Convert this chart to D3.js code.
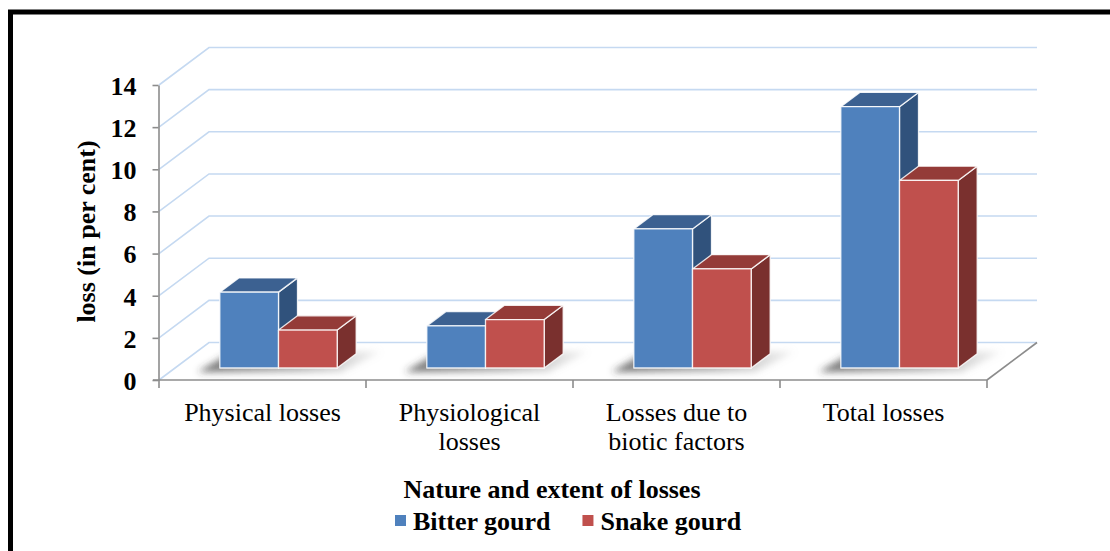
<!DOCTYPE html>
<html>
<head>
<meta charset="utf-8">
<script src="https://cdn.jsdelivr.net/npm/d3@7"></script>
<style>
    body { margin: 0; background: #fff; }
    svg { display: block; }
    text { font-family: 'Liberation Serif', 'Times New Roman', serif; fill: #000; }
</style>
</head>
<body>
<div id="vis"></div>
<script>
const CATEGORIES = ['Physical losses', 'Physiological losses', 'Losses due to biotic factors', 'Total losses']
const CATEGORY_LINES = [
    ['Physical losses'],
    ['Physiological', 'losses'],
    ['Losses due to', 'biotic factors'],
    ['Total losses']
]
const SERIES = ['Bitter gourd', 'Snake gourd']
const BITTER_GOURD = [3.6, 2.0, 6.6, 12.4]
const SNAKE_GOURD = [1.8, 2.3, 4.7, 8.9]
const Y_TICKS = [0, 2, 4, 6, 8, 10, 12, 14]

const COLORS = {
    'Bitter gourd': {front: '#4f81bd', top: '#3c6191', side: '#30527c'},
    'Snake gourd': {front: '#c0504d', top: '#943b38', side: '#7a302e'}
}

const W = 1110, H = 551
// oblique depth of the floor
const DEPTH = {dx: 50, dy: -37.5}
const BAR_D0 = 0.32, BAR_D1 = 0.70

let svg = d3.select('#vis')
    .append('svg')
    .attr('width', W)
    .attr('height', H)

let defs = svg.append('defs')
defs.append('filter')
    .attr('id', 'shadow-blur')
    .attr('x', '-30%').attr('y', '-80%')
    .attr('width', '160%').attr('height', '260%')
    .append('feGaussianBlur')
    .attr('stdDeviation', 3.5)

let grad = defs.append('linearGradient')
    .attr('id', 'shadow-grad')
    .attr('x1', '0%').attr('x2', '100%')
    .attr('y1', '0%').attr('y2', '0%')
grad.append('stop').attr('offset', '0%').attr('stop-color', '#333').attr('stop-opacity', 0.7)
grad.append('stop').attr('offset', '55%').attr('stop-color', '#666').attr('stop-opacity', 0.5)
grad.append('stop').attr('offset', '100%').attr('stop-color', '#aaa').attr('stop-opacity', 0.2)

// frame
svg.append('path')
    .attr('d', `M10.5 ${H + 5} V12 H${W + 5}`)
    .attr('fill', 'none')
    .attr('stroke', '#000')
    .attr('stroke-width', 5)

let x = d3.scaleBand()
    .domain(CATEGORIES)
    .range([159, 987])
    .padding(0)

let y = d3.scaleLinear()
    .domain([0, 14])
    .range([380, 85])

let clusterW = x.bandwidth() * 0.567
let clusterPad = (x.bandwidth() - clusterW) / 2
let xs = d3.scaleBand()
    .domain(SERIES)
    .range([0, clusterW])

function pt(px, v, d) {
    return [px + d * DEPTH.dx, y(v) + d * DEPTH.dy]
}

// back wall gridlines + floor
let xLeft = x.range()[0], xRight = x.range()[1]
svg.append('g')
    .selectAll('path')
    .data(Y_TICKS)
    .enter().append('path')
    .attr('d', v => d3.line()([pt(xLeft, v, 0), pt(xLeft, v, 1), pt(xRight, v, 1)]))
    .attr('fill', 'none')
    .attr('stroke', '#c5d9f1')
    .attr('stroke-width', 1.6)

svg.append('path')
    .attr('d', d3.line()([pt(xRight, 0, 0), pt(xRight, 0, 1)]))
    .attr('stroke', '#8c8c8c')
    .attr('stroke-width', 1.6)

// bar data
let bars = []
CATEGORIES.forEach((c, i) => {
    bars.push({cat: c, series: 'Bitter gourd', value: BITTER_GOURD[i]})
    bars.push({cat: c, series: 'Snake gourd', value: SNAKE_GOURD[i]})
})

// floor shadows
svg.append('g')
    .selectAll('polygon')
    .data(CATEGORIES)
    .enter().append('polygon')
    .attr('points', c => {
        let a = x(c) + clusterPad
        let b = a + clusterW
        let fl = pt(a, 0, BAR_D0), fr = pt(b, 0, BAR_D0)
        let br = pt(b, 0, BAR_D1)
        return [
            [fl[0] - 22, fl[1] + 4],
            [fr[0] + 4, fr[1] + 4],
            [br[0] + 24, br[1] - 2],
            [fl[0] + 12, br[1] - 2]
        ].join(' ')
    })
    .attr('fill', 'url(#shadow-grad)')
    .attr('filter', 'url(#shadow-blur)')

// 3d bars
let barG = svg.append('g')
    .selectAll('g')
    .data(bars)
    .enter().append('g')

function face(d, kind) {
    let x0 = x(d.cat) + clusterPad + xs(d.series)
    let x1 = x0 + xs.bandwidth()
    let v = d.value
    if (kind === 'front') return [pt(x0, 0, BAR_D0), pt(x1, 0, BAR_D0), pt(x1, v, BAR_D0), pt(x0, v, BAR_D0)]
    if (kind === 'top') return [pt(x0, v, BAR_D0), pt(x1, v, BAR_D0), pt(x1, v, BAR_D1), pt(x0, v, BAR_D1)]
    return [pt(x1, 0, BAR_D0), pt(x1, 0, BAR_D1), pt(x1, v, BAR_D1), pt(x1, v, BAR_D0)]
}

for (let kind of ['side', 'top', 'front']) {
    barG.append('polygon')
        .attr('points', d => face(d, kind).join(' '))
        .attr('fill', d => COLORS[d.series][kind])
        .attr('stroke', '#fff')
        .attr('stroke-opacity', 0.85)
        .attr('stroke-width', 1.3)
        .attr('stroke-linejoin', 'round')
}

// y axis
let yAxis = d3.axisLeft(y)
    .tickValues(Y_TICKS)
    .tickSizeInner(6)
    .tickSizeOuter(0)
    .tickPadding(16)

let yg = svg.append('g')
    .attr('transform', `translate(${xLeft - 0.5},0)`)
    .call(yAxis)
yg.select('.domain').attr('stroke', '#8c8c8c').attr('stroke-width', 1.6)
yg.selectAll('.tick line').attr('stroke', '#8c8c8c').attr('stroke-width', 1.6)
yg.selectAll('.tick text')
    .attr('font-family', "'Liberation Serif', 'Times New Roman', serif")
    .attr('font-size', 26)
    .attr('font-weight', 'bold')
    .attr('fill', '#000')
    .attr('dy', '0.36em')

// floor front edge with category ticks
svg.append('line')
    .attr('x1', xLeft - 6).attr('x2', xRight)
    .attr('y1', y(0)).attr('y2', y(0))
    .attr('stroke', '#8c8c8c')
    .attr('stroke-width', 1.6)

let edges = CATEGORIES.map(c => x(c)).concat([xRight])
svg.append('g')
    .selectAll('line')
    .data(edges)
    .enter().append('line')
    .attr('x1', d => d).attr('x2', d => d)
    .attr('y1', y(0)).attr('y2', y(0) + 8)
    .attr('stroke', '#8c8c8c')
    .attr('stroke-width', 1.6)

// category labels
let catText = svg.append('g')
    .selectAll('text')
    .data(CATEGORIES)
    .enter().append('text')
    .attr('x', c => x(c) + x.bandwidth() / 2)
    .attr('y', 421)
    .attr('text-anchor', 'middle')
    .attr('font-size', 26)

catText.selectAll('tspan')
    .data((c, i) => CATEGORY_LINES[i])
    .enter().append('tspan')
    .attr('x', function () { return this.parentNode.getAttribute('x') })
    .attr('dy', (d, i) => i === 0 ? 0 : 29)
    .text(d => d)

// axis titles
svg.append('text')
    .attr('transform', 'translate(94.5,231.5) rotate(-90)')
    .attr('text-anchor', 'middle')
    .attr('font-size', 26)
    .attr('font-weight', 'bold')
    .text('loss (in per cent)')

svg.append('text')
    .attr('x', 552)
    .attr('y', 498)
    .attr('text-anchor', 'middle')
    .attr('font-size', 26)
    .attr('font-weight', 'bold')
    .text('Nature and extent of losses')

// legend
let legend = svg.append('g')
let lx = 395
SERIES.forEach(s => {
    legend.append('rect')
        .attr('x', lx).attr('y', 515)
        .attr('width', 11).attr('height', 11)
        .attr('fill', COLORS[s].front)
    let t = legend.append('text')
        .attr('x', lx + 18)
        .attr('y', 530)
        .attr('font-size', 26)
        .attr('font-weight', 'bold')
        .text(s)
    lx += 18 + t.node().getComputedTextLength() + 32
})
</script>
</body>
</html>
